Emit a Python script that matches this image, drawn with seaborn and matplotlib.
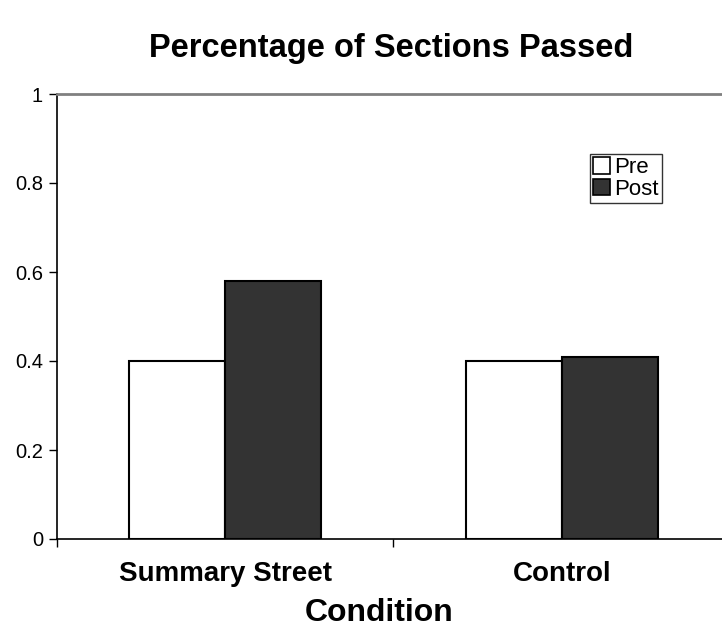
import matplotlib
matplotlib.use("Agg")
import matplotlib.pyplot as plt
import seaborn as sns
import pandas as pd

conditions = ["Summary Street", "Control"]
phases = ["Pre", "Post"]
pre_values = [0.40, 0.40]
post_values = [0.58, 0.41]
y_ticks = [0, 0.2, 0.4, 0.6, 0.8, 1]
y_tick_labels = ["0", "0.2", "0.4", "0.6", "0.8", "1"]

df = pd.DataFrame({
    "Condition": conditions * 2,
    "Phase": ["Pre"] * 2 + ["Post"] * 2,
    "Value": pre_values + post_values,
})

sns.set_theme(style="white")
plt.rcParams["font.family"] = ["Liberation Sans", "DejaVu Sans"]
plt.rcParams["text.color"] = "black"
plt.rcParams["xtick.color"] = "black"
plt.rcParams["ytick.color"] = "black"
plt.rcParams["axes.labelcolor"] = "black"

fig = plt.figure(figsize=(7.22, 6.37), dpi=100)
ax = fig.add_axes([57 / 722, (637 - 539) / 637, (730 - 57) / 722, 445 / 637])

sns.barplot(data=df, x="Condition", y="Value", hue="Phase", hue_order=phases,
            palette=["white", "#333333"], edgecolor="black", linewidth=1.5,
            width=0.57, saturation=1, ax=ax, legend=True)

ax.set_xlim(-0.5, 1.5)
ax.set_ylim(0, 1)
ax.set_yticks(y_ticks)
ax.set_yticklabels(y_tick_labels, fontsize=14.5)
ax.set_xticks([-0.5, 0.5, 1.5])
ax.set_xticklabels(["", "", ""])
ax.set_xticks([0, 1], minor=True)
ax.set_xticklabels(conditions, minor=True, fontsize=20, fontweight="bold")
ax.tick_params(axis="x", which="minor", length=0, pad=16)
ax.tick_params(axis="x", which="major", direction="out", length=6, width=1, color="black", bottom=True)
ax.tick_params(axis="y", direction="out", length=6, width=1, color="black", left=True, pad=4)

ax.set_xlabel("")
ax.set_ylabel("")
fig.text(379 / 722, 1 - 613 / 637, "Condition", ha="center", va="center",
         fontsize=23, fontweight="bold")

for s in ["left", "bottom"]:
    ax.spines[s].set_color("black")
    ax.spines[s].set_linewidth(1.2)
ax.spines["top"].set_color("#808080")
ax.spines["top"].set_linewidth(2)
ax.spines["right"].set_visible(False)

fig.text(391 / 722, 1 - 48 / 637, "Percentage of Sections Passed", ha="center", va="center",
         fontsize=23.5, fontweight="bold")

leg = ax.legend(title=None, loc="upper left", bbox_to_anchor=((590 - 57) / 673, (539 - 154) / 445),
                frameon=True, fancybox=False, fontsize=16, handlelength=0.75, handleheight=0.75,
                handletextpad=0.2, borderpad=0.15, labelspacing=0.02, borderaxespad=0)
leg.get_frame().set_edgecolor("black")
leg.get_frame().set_linewidth(1)
for h in leg.legend_handles:
    h.set_edgecolor("black")
    h.set_linewidth(1.2)

fig.savefig("out.png", dpi=100, facecolor="white")
